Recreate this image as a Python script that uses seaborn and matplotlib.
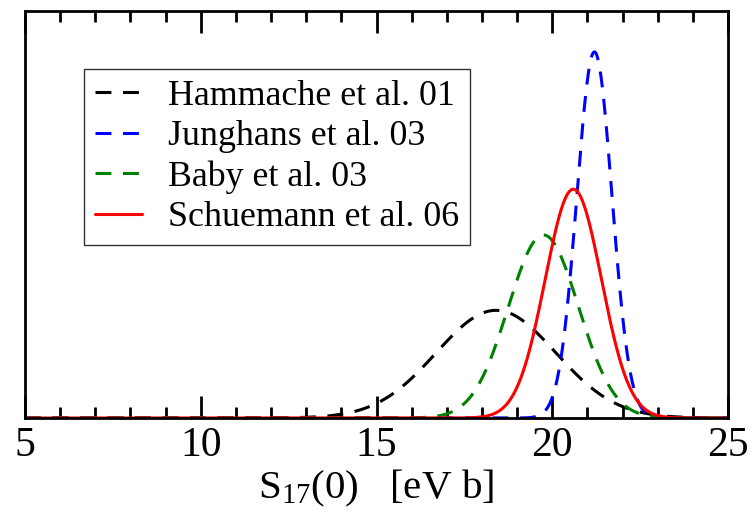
import numpy as np
import pandas as pd
import matplotlib
matplotlib.use("Agg")
import matplotlib.pyplot as plt
from matplotlib.ticker import MultipleLocator
import seaborn as sns

# S17(0) determinations: central value and 1-sigma uncertainty [eV b]
studies = ["Hammache et al. 01", "Junghans et al. 03", "Baby et al. 03", "Schuemann et al. 06"]
s17_mean = [18.4, 21.2, 19.75, 20.6]
s17_sigma = [1.7, 0.5, 1.0, 0.8]
colors = ["black", "blue", "green", "red"]
dashed = [True, True, True, False]

x_ticks = [5, 10, 15, 20, 25]

sns.set_theme(style="white")
plt.rcParams["font.family"] = ["Liberation Serif", "DejaVu Serif"]
plt.rcParams["mathtext.fontset"] = "custom"
plt.rcParams["mathtext.rm"] = "Liberation Serif"
plt.rcParams["mathtext.it"] = "Liberation Serif:italic"
plt.rcParams["text.color"] = "black"
plt.rcParams["axes.labelcolor"] = "black"
plt.rcParams["xtick.color"] = "black"
plt.rcParams["axes.edgecolor"] = "black"

s = np.linspace(5, 25, 1201)
frames = []
for name, mu, sig in zip(studies, s17_mean, s17_sigma):
    p = np.exp(-0.5 * ((s - mu) / sig) ** 2) / (sig * np.sqrt(2 * np.pi))
    frames.append(pd.DataFrame({"S17": s, "P": p, "study": name}))
df = pd.concat(frames, ignore_index=True)

fig = plt.figure(figsize=(7.54, 5.16), dpi=100)
ax = fig.add_axes([25 / 754, 1 - 418 / 516, 703 / 754, 407 / 516])

for name, col, d in zip(studies, colors, dashed):
    sub = df[df["study"] == name]
    sns.lineplot(data=sub, x="S17", y="P", ax=ax, color=col, lw=2.2,
                 label=name, legend=False)
    if d:
        ax.lines[-1].set_dashes((5.2, 3.8))

ax.set_xlim(5, 25)
ax.set_ylim(0, 0.887)
ax.set_xticks(x_ticks)
ax.xaxis.set_minor_locator(MultipleLocator(1))
ax.set_yticks([])
ax.tick_params(axis="x", which="major", direction="in", length=16, width=2.0,
               top=True, bottom=True, labelsize=30, pad=6, colors="black")
ax.tick_params(axis="x", which="minor", direction="in", length=8, width=2.0,
               top=True, bottom=True, colors="black")
for sp in ax.spines.values():
    sp.set_visible(True)
    sp.set_color("black")
    sp.set_linewidth(2.0)
    sp.set_zorder(3)

ax.set_xlabel(r"$\mathrm{S}_{17}$(0)   [eV b]", fontsize=29.5, labelpad=2,
              color="black")
ax.set_ylabel("")

leg = ax.legend(loc="upper left", bbox_to_anchor=(0.084, 0.857), fontsize=25.8,
                frameon=True, fancybox=False, shadow=False, handlelength=1.33,
                handletextpad=0.7, borderpad=0.3, labelspacing=0.2,
                borderaxespad=0)
leg.get_frame().set_edgecolor("black")
leg.get_frame().set_linewidth(1.0)
for t in leg.get_texts():
    t.set_color("black")

fig.savefig("out.png", dpi=100)
